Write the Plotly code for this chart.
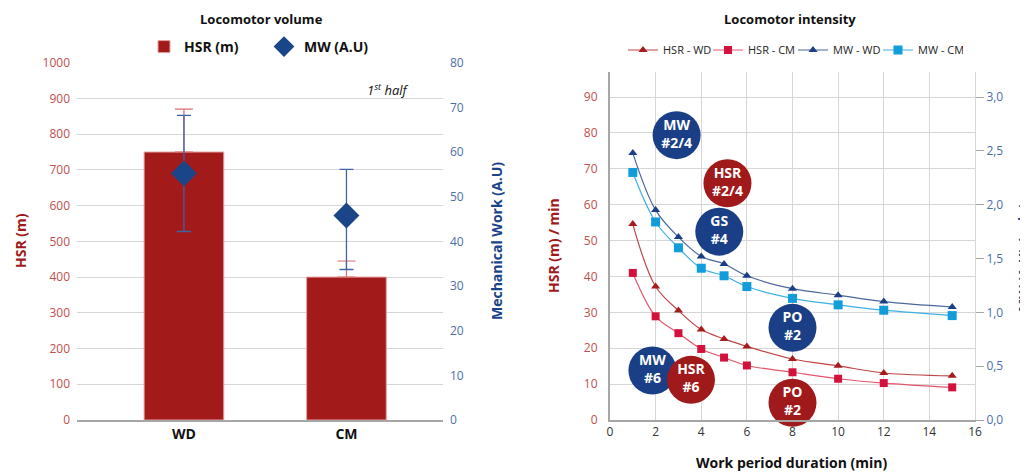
import plotly.graph_objects as go

W, H = 1028, 473
OFF = 8  # page body margin: the figure starts 8 px right and 8 px down in the window

# ---------------- Left chart: Locomotor volume ----------------
vol_categories = ["WD", "CM"]
hsr_volume = [750, 400]
hsr_volume_err = [120, 45]
mw_volume = [55.2, 45.8]
mw_volume_err_plus = [13.0, 10.3]
mw_volume_err_minus = [13.0, 12.1]

# ---------------- Right chart: Locomotor intensity ----------------
durations = [1, 2, 3, 4, 5, 6, 8, 10, 12, 15]
hsr_wd = [54.6, 37.2, 30.5, 25.2, 22.6, 20.5, 17.0, 15.1, 13.1, 12.3]
hsr_cm = [41.0, 28.9, 24.2, 19.8, 17.4, 15.2, 13.3, 11.5, 10.3, 9.1]
mw_wd = [2.48, 1.95, 1.70, 1.52, 1.45, 1.34, 1.22, 1.16, 1.10, 1.05]
mw_cm = [2.30, 1.84, 1.60, 1.41, 1.34, 1.24, 1.13, 1.07, 1.02, 0.97]

mw_tick_vals = [0.0, 0.5, 1.0, 1.5, 2.0, 2.5, 3.0]
mw_tick_text = ["0,0", "0,5", "1,0", "1,5", "2,0", "2,5", "3,0"]

bubble_labels = ["MW<br>#2/4", "HSR<br>#2/4", "GS<br>#4", "PO<br>#2", "MW<br>#6", "HSR<br>#6", "PO<br>#2"]
bubble_x = [2.92, 5.15, 4.79, 8.0, 1.86, 3.55, 8.0]
bubble_y = [79.4, 66.0, 52.5, 25.7, 13.8, 11.2, 4.8]
bubble_group = ["blue", "red", "blue", "blue", "blue", "red", "red"]

# ---------------- Styles ----------------
FONT = "Open Sans"
DARK_RED = "#A11A1A"
DARK_BLUE = "#1A4488"
TICK_RED = "#C0504D"
TICK_BLUE = "#4A6FA8"
GRID = "#D6D6D6"
AXIS = "#A6A6A6"
bubble_palette = {"blue": "#1B3F86", "red": "#A0191B"}


def px_x(p):
    return (p - OFF) / W


def px_y(p):
    return 1 - (p - OFF) / H


fig = go.Figure()

# Left chart
fig.add_trace(go.Bar(
    x=vol_categories, y=hsr_volume, name="HSR (m)", xaxis="x", yaxis="y",
    marker=dict(color="#A31A1A", line=dict(color="#E3A0A0", width=1)),
    width=0.49,
    error_y=dict(type="data", symmetric=False, array=hsr_volume_err,
                 arrayminus=[0 for _ in hsr_volume_err],
                 color="#D96C6C", thickness=1.2, width=9),
    legend="legend",
))
fig.add_trace(go.Scatter(
    x=vol_categories, y=mw_volume, name="MW (A.U)", xaxis="x", yaxis="y2",
    mode="markers",
    marker=dict(symbol="diamond", size=20, color="#1B4589"),
    error_y=dict(type="data", symmetric=False, array=mw_volume_err_plus,
                 arrayminus=mw_volume_err_minus,
                 color="#3E64A8", thickness=1.3, width=7),
    legend="legend",
))

# Right chart
series = [
    ("HSR - WD", hsr_wd, "y3", "triangle-up", 8, "#A51C1C", "#C04545"),
    ("HSR - CM", hsr_cm, "y3", "square", 8, "#D3123B", "#E4556A"),
    ("MW - WD", mw_wd, "y4", "triangle-up", 8, "#1B3F86", "#4A679E"),
    ("MW - CM", mw_cm, "y4", "square", 9, "#139CDA", "#3DB0E6"),
]
for name, vals, yax, sym, size, mcol, lcol in series:
    fig.add_trace(go.Scatter(
        x=durations, y=vals, name=name, xaxis="x2", yaxis=yax,
        mode="lines+markers",
        line=dict(color=lcol, width=1.2, shape="spline", smoothing=1.0),
        marker=dict(symbol=sym, size=size, color=mcol),
        legend="legend2",
    ))

fig.add_trace(go.Scatter(
    x=bubble_x, y=bubble_y, xaxis="x2", yaxis="y3",
    mode="markers+text", text=bubble_labels, textposition="middle center",
    textfont=dict(family=FONT, size=14, color="white", weight="bold"),
    marker=dict(size=48, color=[bubble_palette[g] for g in bubble_group], line=dict(width=0)),
    showlegend=False, cliponaxis=False, hoverinfo="skip",
))

tickfont_red = dict(family=FONT, size=12, color=TICK_RED)
tickfont_blue = dict(family=FONT, size=12, color=TICK_BLUE)

fig.update_layout(
    template="none",
    width=W, height=H, autosize=False,
    margin=dict(l=0, r=0, t=0, b=0, pad=0, autoexpand=False),
    paper_bgcolor="white", plot_bgcolor="white",
    font=dict(family=FONT, size=12, color="#333"),
    barmode="overlay",
    xaxis=dict(domain=[px_x(77), px_x(443)], type="category", range=[-0.658, 1.594],
               showgrid=False, showline=True, linecolor=AXIS, linewidth=2,
               ticks="", tickfont=dict(family=FONT, size=14, color="#111", weight="bold"),
               anchor="y", automargin=False),
    yaxis=dict(domain=[px_y(420), px_y(62.7)], range=[0, 1000], dtick=100,
               showgrid=True, gridcolor=GRID, gridwidth=1, zeroline=False,
               tickfont=tickfont_red, ticks="", ticklabelstandoff=6, anchor="x",
               automargin=False),
    yaxis2=dict(overlaying="y", side="right", range=[0, 80], dtick=10,
                showgrid=False, zeroline=False, tickfont=tickfont_blue,
                ticks="", ticklabelstandoff=6, anchor="x", automargin=False),
    xaxis2=dict(domain=[px_x(610), px_x(975)], range=[0, 16], dtick=2,
                showgrid=True, gridcolor=GRID, gridwidth=1, zeroline=False,
                showline=True, linecolor=AXIS, linewidth=2,
                tickfont=dict(family=FONT, size=12, color="#333"), ticks="",
                anchor="y3", automargin=False),
    yaxis3=dict(domain=[px_y(420), px_y(72)], range=[0, 97],
                tickvals=[0, 10, 20, 30, 40, 50, 60, 70, 80, 90],
                showgrid=True, gridcolor=GRID, gridwidth=1, zeroline=False,
                showline=True, linecolor=AXIS, linewidth=2,
                tickfont=tickfont_red, ticks="", ticklabelstandoff=8, anchor="x2",
                automargin=False),
    yaxis4=dict(overlaying="y3", side="right", range=[0, 97 / 30],
                tickvals=mw_tick_vals, ticktext=mw_tick_text,
                showgrid=False, zeroline=False, showline=True, linecolor=GRID, linewidth=1,
                ticks="outside", ticklen=8, tickcolor=AXIS,
                tickfont=tickfont_blue, anchor="x2", automargin=False),
    legend=dict(orientation="h", x=px_x(144), xanchor="left", y=px_y(47), yanchor="middle",
                font=dict(family=FONT, size=14, color="#111", weight="bold"),
                itemwidth=30, bgcolor="rgba(0,0,0,0)", entrywidth=75, borderwidth=0),
    legend2=dict(orientation="h", x=px_x(623), xanchor="left", y=px_y(50), yanchor="middle",
                 font=dict(family=FONT, size=11, color="#222"),
                 itemwidth=30, bgcolor="rgba(0,0,0,0)", entrywidth=40, borderwidth=0),
)


def ann(text, x, y, size=13, color="#111", bold=True, angle=0, italic=False):
    t = text
    if italic:
        t = "<i>" + t + "</i>"
    fig.add_annotation(text=t, x=px_x(x), y=px_y(y), xref="paper", yref="paper",
                       showarrow=False, textangle=angle, xanchor="center", yanchor="middle",
                       font=dict(family=FONT, size=size, color=color,
                                 weight="bold" if bold else "normal"))


ann("Locomotor volume", 261, 19)
ann("Locomotor intensity", 790, 19)
ann("1<sup>st</sup> half", 388, 90, size=13, bold=False, italic=True)
ann("HSR (m)", 20, 241, size=14, color=DARK_RED, angle=-90)
ann("Mechanical Work (A.U)", 496, 241, size=14, color=DARK_BLUE, angle=-90)
ann("HSR (m) / min", 553, 246, size=14, color=DARK_RED, angle=-90)
ann("MW (A.U) / min)", 1023, 258, size=14, color=DARK_BLUE, angle=-90)
ann("Work period duration (min)", 791, 462, size=14)

fig.write_html("out.html")
